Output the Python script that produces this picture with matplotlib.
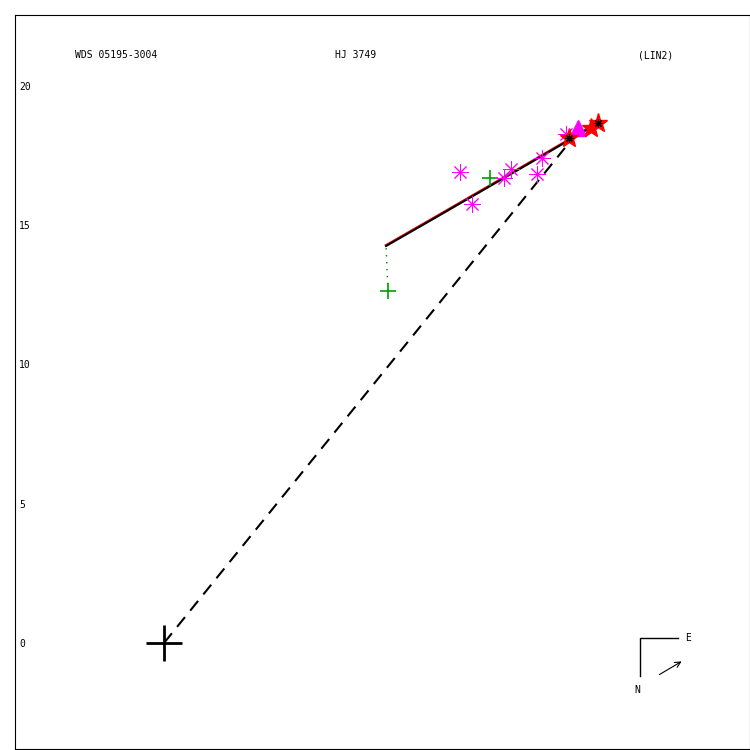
import matplotlib
matplotlib.use("Agg")
import matplotlib.pyplot as plt
import matplotlib.transforms as mtransforms

# orbit track (arcsec)
orbX = [7.97, 9.66, 11.34, 13.50, 15.65]
orbY = [14.25, 15.22, 16.19, 17.44, 18.70]

# line from primary to predicted position
dashX = [0.0, 14.39]
dashY = [0.0, 17.77]

# green + measures
grnX = [8.04, 11.70]
grnY = [12.63, 16.69]

# magenta asterisk measures
magX = [10.62, 11.06, 12.20, 12.45, 13.39, 13.57, 14.43]
magY = [16.91, 15.76, 16.69, 17.01, 16.83, 17.41, 18.27]

# magenta triangle
triX = [14.86]
triY = [18.49]

# red stars
redX = [14.54, 15.33, 15.58]
redY = [18.13, 18.49, 18.66]

yTicks = [0, 5, 10, 15, 20]

s = 27.86  # px per unit
fig = plt.figure(figsize=(7.5, 7.5), dpi=100)
ax = fig.add_axes([15/750, 1/750, 735/750, 734/750])
ax.set_xlim((15-164)/s, (750-164)/s)
ax.set_ylim((643-749)/s, (643-15)/s)

mono = "DejaVu Sans Mono"

ax.plot(dashX, dashY, color="k", lw=1.5, ls=(0, (6, 4)))
redShift = mtransforms.offset_copy(ax.transData, fig=fig, x=-0.7, y=0.9, units="dots")
ax.plot(orbX, orbY, color="red", lw=1.0, zorder=2, transform=redShift)
ax.plot(orbX, orbY, color="k", lw=1.5, zorder=3)
ax.plot([grnX[0], orbX[0]], [grnY[0], orbY[0]], color="green", lw=1, ls=(0, (1, 4)))

ax.plot(grnX, grnY, "+", color="#00a000", ms=12, mew=1.2, zorder=4)
ax.plot(magX, magY, ls="none", marker=(8, 2, 0), color="magenta", ms=12, mew=0.7, zorder=4)
ax.plot(triX, triY, "^", color="magenta", ms=11, zorder=5)
ax.plot(redX, redY, "*", color="red", ms=14, zorder=6)
ax.plot([redX[0], redX[2]], [redY[0], redY[2]], ls="none", marker=(8, 2, 0), color="k", ms=6, mew=0.8, zorder=7)
ax.plot([0], [0], "+", color="k", ms=26, mew=2, zorder=8)

ax.set_xticks([])
ax.set_yticks(yTicks)
ax.set_yticklabels([str(t) for t in yTicks], family=mono, fontsize=7)
ax.tick_params(axis="y", length=0, pad=-3)
for lbl in ax.get_yticklabels():
    lbl.set_horizontalalignment("left")

fig.text(75/750, 1 - 55/750, "WDS 05195-3004", family=mono, fontsize=7, va="center", ha="left")
fig.text(356/750, 1 - 55/750, "HJ 3749", family=mono, fontsize=7, va="center", ha="center")
fig.text(656/750, 1 - 55/750, "(LIN2)", family=mono, fontsize=7, va="center", ha="center")

# compass
fx = lambda p: p/750
fy = lambda p: 1 - p/750
fig.add_artist(plt.Line2D([fx(640), fx(640), fx(678)], [fy(676), fy(638), fy(638)], color="k", lw=1, transform=fig.transFigure))
fig.text(fx(688), fy(638), "E", family=mono, fontsize=7, va="center", ha="center")
fig.text(fx(637), fy(690), "N", family=mono, fontsize=7, va="center", ha="center")
ax.annotate("", xy=(fx(684), fy(660)), xytext=(fx(657), fy(676)), xycoords="figure fraction",
            textcoords="figure fraction", arrowprops=dict(arrowstyle="->", lw=0.8, color="k"))

fig.savefig("out.png", dpi=100)
